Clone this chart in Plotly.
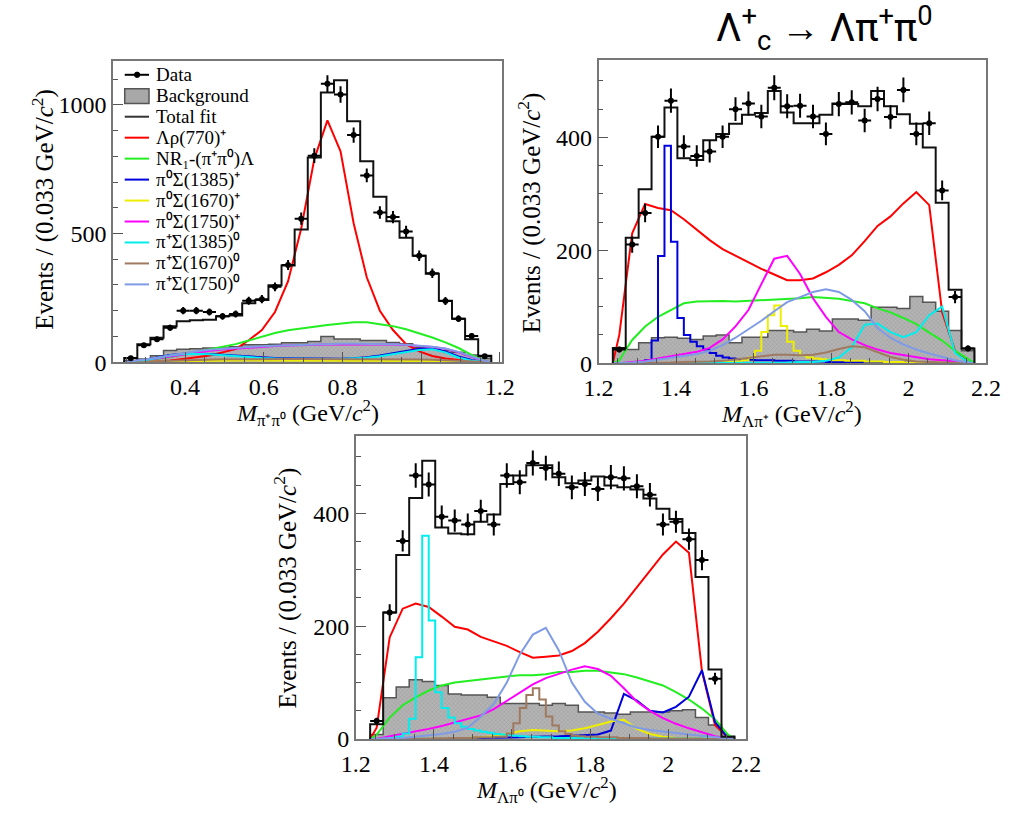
import numpy as np
import plotly.graph_objects as go

BIN = 1 / 30          # 0.033 GeV/c^2 data bins
FINE = BIN / 2        # finer binning used for narrow components

# ---------------- Panel 1 : M(pi+ pi0) ----------------
p1_lo = 0.2453
p1_data = [15, 66, 89, 134, 200, 200, 195, 178, 187, 239, 245, 293, 378, 558,
           803, 1083, 1041, 883, 726, 582, 564, 508, 414, 346, 238, 169, 102, 23]
p1_fit = [16, 70, 95, 140, 159, 163, 165, 178, 181, 229, 242, 299, 376, 516,
          796, 1049, 1096, 937, 781, 643, 548, 484, 414, 344, 239, 169, 89, 25]
p1_bkg = [5, 12, 25, 45, 50, 52, 55, 55, 60, 68, 68, 70, 75, 75,
          80, 100, 90, 90, 84, 84, 76, 72, 57, 52, 45, 38, 28, 14]
p1_rho = [0, 1, 3, 6, 12, 18, 26, 38, 51, 85, 125, 195, 315, 520,
          790, 940, 820, 540, 330, 200, 125, 70, 42, 24, 14, 8, 4, 1]
p1_nr = [0, 5, 12, 20, 30, 40, 48, 58, 70, 84, 100, 113, 124, 132,
         138, 144, 150, 155, 155, 148, 140, 128, 113, 96, 77, 55, 28, 5]
p1_s1385p = [2, 8, 18, 28, 33, 34, 32, 29, 25, 21, 18, 16, 15, 14,
             13, 13, 13, 15, 19, 26, 35, 44, 52, 55, 42, 22, 8, 1]
p1_s1670p = [0, 1, 2, 3, 4, 5, 5, 6, 6, 6, 6, 6, 6, 6,
             6, 6, 6, 6, 6, 6, 6, 6, 6, 5, 4, 3, 1, 0]
p1_s1750p = [2, 7, 14, 22, 30, 38, 44, 49, 53, 57, 60, 63, 65, 67,
             68, 69, 70, 70, 70, 70, 69, 67, 64, 59, 52, 38, 20, 4]
p1_s1385z = [1, 6, 15, 26, 32, 33, 31, 27, 23, 19, 16, 14, 13, 12,
             12, 12, 12, 14, 17, 23, 31, 40, 47, 50, 38, 18, 6, 1]
p1_s1670z = [0, 1, 3, 5, 7, 9, 10, 11, 11, 12, 12, 12, 12, 12,
             12, 12, 12, 12, 12, 12, 12, 11, 10, 9, 7, 4, 2, 0]
p1_s1750z = [3, 9, 17, 26, 35, 42, 48, 52, 56, 59, 62, 64, 66, 68,
             70, 71, 72, 72, 72, 71, 70, 68, 65, 60, 53, 40, 22, 5]

# ---------------- Panel 2 : M(Lambda pi+) ----------------
p2_lo = 1.2367
p2_data = [24, 210, 266, 401, 465, 384, 367, 375, 401, 450, 460, 437, 488, 455,
           456, 437, 406, 459, 462, 430, 468, 436, 484, 406, 425, 306, 117, 26]
p2_fit = [27, 222, 308, 401, 453, 363, 360, 395, 406, 424, 440, 443, 482, 444,
          425, 425, 440, 460, 459, 455, 482, 455, 441, 424, 382, 284, 130, 26]
p2_bkg = [26, 24, 36, 45, 46, 44, 42, 48, 50, 36, 46, 46, 58, 58,
          55, 60, 57, 78, 78, 76, 99, 99, 97, 118, 108, 92, 58, 22]
p2_rho = [50, 230, 282, 275, 271, 255, 237, 218, 202, 190, 178, 167, 157, 147,
          147, 150, 161, 174, 191, 216, 243, 260, 283, 303, 280, 90, 22, 2]
p2_nr = [5, 41, 65, 82, 94, 106, 109, 110, 110, 109, 110, 111, 113, 114,
         115, 117, 116, 114, 110, 106, 97, 90, 80, 69, 54, 40, 22, 7]
p2_s1385p_fine = [0, 0, 0, 1, 2, 5, 40, 190, 385, 215,
                  80, 50, 38, 30, 24, 18, 13, 10, 8, 7,
                  6, 6, 5, 5, 5, 4, 4, 4, 3, 3,
                  3, 3, 3, 2, 2, 2, 2, 2, 2, 1,
                  1, 1, 1, 1, 1, 1, 1, 1, 1, 1,
                  0, 0, 0, 0, 0, 0]
p2_s1670p_fine = [0, 0, 0, 0, 0, 0, 0, 0, 0, 0,
                  0, 0, 0, 0, 0, 1, 1, 2, 2, 3,
                  5, 10, 22, 55, 85, 102, 66, 38, 22, 14,
                  10, 8, 7, 6, 5, 5, 4, 4, 4, 3,
                  3, 3, 2, 2, 2, 1, 1, 1, 1, 1,
                  1, 0, 0, 0, 0, 0]
p2_s1750p = [0, 2, 4, 8, 12, 16, 20, 27, 42, 65, 94, 140, 185, 190,
             158, 115, 82, 55, 42, 32, 24, 18, 14, 10, 7, 5, 3, 0]
p2_s1385z = [0, 0, 0, 0, 0, 0, 0, 0, 0, 1, 1, 1, 1, 1,
             2, 2, 4, 10, 28, 68, 70, 55, 46, 55, 85, 100, 18, 2]
p2_s1670z = [0, 0, 0, 1, 1, 2, 2, 3, 4, 7, 10, 13, 15, 15,
             14, 15, 19, 25, 30, 28, 20, 11, 6, 3, 2, 1, 0, 0]
p2_s1750z = [0, 1, 3, 6, 9, 12, 16, 22, 32, 45, 60, 75, 92, 108,
             117, 126, 131, 126, 112, 92, 62, 45, 33, 24, 17, 11, 5, 1]

# ---------------- Panel 3 : M(Lambda pi0) ----------------
p3_lo = 1.2367
p3_data = [32, 224, 351, 467, 451, 394, 387, 380, 404, 380, 467, 455, 489, 480,
           470, 446, 452, 443, 464, 462, 448, 433, 380, 385, 354, 317, 107, None]
p3_fit = [26, 224, 326, 427, 493, 375, 364, 363, 385, 398, 452, 467, 485, 485,
          464, 453, 458, 465, 449, 446, 442, 426, 408, 390, 365, 287, 123, 4]
p3_bkg = [8, 73, 92, 105, 102, 95, 80, 78, 78, 74, 63, 63, 63, 60,
          63, 60, 48, 48, 46, 44, 48, 48, 48, 50, 52, 38, 25, 5]
p3_rho = [20, 180, 231, 240, 234, 217, 199, 194, 181, 173, 165, 154, 144, 146,
          148, 156, 170, 190, 214, 240, 269, 298, 327, 350, 330, 120, 25, 2]
p3_nr = [8, 38, 60, 74, 86, 95, 100, 103, 106, 109, 111, 113, 113, 115,
         119, 119, 121, 121, 118, 115, 109, 102, 95, 83, 70, 54, 35, 8]
p3_s1385p = [0, 0, 0, 0, 1, 1, 1, 2, 2, 2, 3, 3, 4, 4,
             5, 6, 7, 8, 15, 80, 68, 50, 47, 57, 75, 122, 30, 2]
p3_s1670p = [0, 0, 0, 0, 0, 0, 1, 2, 3, 5, 9, 14, 16, 15,
             14, 15, 19, 25, 31, 34, 18, 9, 4, 2, 1, 0, 0, 0]
p3_s1750p = [0, 5, 9, 13, 18, 23, 29, 35, 42, 53, 68, 83, 97, 108,
             116, 123, 129, 124, 112, 90, 66, 50, 37, 27, 19, 12, 5, 1]
p3_s1385z_fine = [0, 0, 1, 2, 4, 10, 36, 145, 360, 210,
                  83, 55, 38, 28, 22, 18, 15, 13, 11, 9,
                  8, 7, 6, 5, 4, 4, 3, 3, 2, 2,
                  2, 2, 2, 2, 2, 1, 1, 1, 1, 1,
                  1, 1, 1, 1, 1, 1, 1, 1, 1, 1,
                  1, 1, 0, 0, 0, 0]
p3_s1670z_fine = [0, 0, 0, 0, 0, 0, 0, 0, 0, 0,
                  1, 1, 2, 2, 2, 2, 3, 3, 3, 4,
                  4, 10, 28, 55, 78, 90, 70, 40, 24, 14,
                  9, 6, 5, 4, 4, 3, 3, 3, 2, 2,
                  2, 2, 2, 1, 1, 1, 1, 1, 1, 1,
                  1, 0, 0, 0, 0, 0]
p3_s1750z = [0, 1, 2, 4, 6, 9, 13, 20, 40, 62, 100, 150, 185, 197,
             157, 100, 66, 45, 36, 28, 20, 16, 13, 10, 8, 6, 4, 1]

# ---------------- labels / styles ----------------
order = ["rho", "nr", "s1385p", "s1670p", "s1750p", "s1385z", "s1670z", "s1750z"]
names = {
    "rho": "Λρ(770)⁺", "nr": "NR₁-(π⁺π⁰)Λ",
    "s1385p": "π⁰Σ(1385)⁺", "s1670p": "π⁰Σ(1670)⁺", "s1750p": "π⁰Σ(1750)⁺",
    "s1385z": "π⁺Σ(1385)⁰", "s1670z": "π⁺Σ(1670)⁰", "s1750z": "π⁺Σ(1750)⁰",
}
colors = {
    "rho": "#ff0000", "nr": "#22ee22", "s1385p": "#0000dd", "s1670p": "#eeee00",
    "s1750p": "#ff00ff", "s1385z": "#00eeee", "s1670z": "#a07a60", "s1750z": "#7f9be6",
}

panels = [
    dict(xa="x", ya="y", lo=p1_lo, data=p1_data, fit=p1_fit, bkg=p1_bkg,
         comps={"rho": (p1_rho, BIN), "nr": (p1_nr, BIN), "s1385p": (p1_s1385p, BIN),
                "s1670p": (p1_s1670p, BIN), "s1750p": (p1_s1750p, BIN),
                "s1385z": (p1_s1385z, BIN), "s1670z": (p1_s1670z, BIN),
                "s1750z": (p1_s1750z, BIN)}),
    dict(xa="x2", ya="y2", lo=p2_lo, data=p2_data, fit=p2_fit, bkg=p2_bkg,
         comps={"rho": (p2_rho, BIN), "nr": (p2_nr, BIN), "s1385p": (p2_s1385p_fine, FINE),
                "s1670p": (p2_s1670p_fine, FINE), "s1750p": (p2_s1750p, BIN),
                "s1385z": (p2_s1385z, BIN), "s1670z": (p2_s1670z, BIN),
                "s1750z": (p2_s1750z, BIN)}),
    dict(xa="x3", ya="y3", lo=p3_lo, data=p3_data, fit=p3_fit, bkg=p3_bkg,
         comps={"rho": (p3_rho, BIN), "nr": (p3_nr, BIN), "s1385p": (p3_s1385p, BIN),
                "s1670p": (p3_s1670p, BIN), "s1750p": (p3_s1750p, BIN),
                "s1385z": (p3_s1385z_fine, FINE), "s1670z": (p3_s1670z_fine, FINE),
                "s1750z": (p3_s1750z, BIN)}),
]

fig = go.Figure()


def step_xy(lo, vals, w):
    n = len(vals)
    edges = [lo + w * i for i in range(n + 1)]
    xs = [edges[0]] + edges[:n] + [edges[n], edges[n]]
    ys = [0] + list(vals) + [vals[-1], 0]
    return xs, ys


for p in panels:
    lo = p["lo"]
    bx, by = step_xy(lo, p["bkg"], BIN)
    fig.add_trace(go.Scatter(
        x=bx, y=by, xaxis=p["xa"], yaxis=p["ya"], mode="lines", line_shape="hv",
        line=dict(color="#555555", width=1.5), fill="tozeroy", fillcolor="#a8a8a8",
        fillpattern=dict(shape="x", size=3, solidity=0.25, fgcolor="#7a7a7a", bgcolor="#b4b4b4"),
        name="Background", showlegend=False))
    for key in order:
        vals, w = p["comps"][key]
        n = len(vals)
        cx = [lo] + [lo + w * (i + 0.5) for i in range(n)] + [lo + w * n]
        cy = [0] + list(vals) + [0]
        fig.add_trace(go.Scatter(
            x=cx, y=cy, xaxis=p["xa"], yaxis=p["ya"], mode="lines",
            line=dict(color=colors[key], width=2, shape="hvh" if w == FINE else "linear"),
            name=names[key], showlegend=False))
    fx, fy = step_xy(lo, p["fit"], BIN)
    fig.add_trace(go.Scatter(
        x=fx, y=fy, xaxis=p["xa"], yaxis=p["ya"], mode="lines", line_shape="hv",
        line=dict(color="#111111", width=2), name="Total fit", showlegend=False))
    dx = [lo + BIN * (i + 0.5) for i in range(len(p["data"]))]
    err = [None if v is None else float(np.sqrt(v)) for v in p["data"]]
    fig.add_trace(go.Scatter(
        x=dx, y=p["data"], xaxis=p["xa"], yaxis=p["ya"], mode="markers",
        marker=dict(color="black", size=6),
        error_x=dict(type="constant", value=BIN / 2, width=0, thickness=2, color="black"),
        error_y=dict(type="data", array=err, width=0, thickness=2, color="black"),
        showlegend=False, name="Data"))

W, H = 1036, 817
tickfont = dict(family="Liberation Serif", size=24, color="black")


def xdom(a, b):
    return [a / W, b / W]


def ydom(top, bot):
    return [1 - bot / H, 1 - top / H]


def px(x):
    return x / W


def py(y):
    return 1 - y / H


axis_common = dict(showline=True, linecolor="#777777", linewidth=1.5, mirror=True,
                   ticks="inside", ticklen=10, tickwidth=1, tickcolor="#555555",
                   showgrid=False, zeroline=False, tickfont=tickfont)

xt2 = dict(tickvals=[1.2, 1.4, 1.6, 1.8, 2.0, 2.2], ticktext=["1.2", "1.4", "1.6", "1.8", "2", "2.2"],
           ticklabelstandoff=2,
           minor=dict(dtick=0.05, tick0=1.2, ticks="inside", ticklen=5, tickcolor="#555555"))
yt2 = dict(tickvals=[0, 200, 400], ticktext=["0", "200", "400"],
           minor=dict(dtick=50, tick0=0, ticks="inside", ticklen=5, tickcolor="#555555"))

fig.update_layout(
    width=W, height=H, margin=dict(l=0, r=0, t=0, b=0),
    paper_bgcolor="white", plot_bgcolor="white", showlegend=False,
    xaxis=dict(domain=xdom(101, 502), anchor="y", range=[0.217, 1.207],
               tickvals=[0.4, 0.6, 0.8, 1.0, 1.2], ticktext=["0.4", "0.6", "0.8", "1", "1.2"],
               ticklabelstandoff=2,
               minor=dict(dtick=0.05, tick0=0.2, ticks="inside", ticklen=5, tickcolor="#555555"),
               **axis_common),
    yaxis=dict(domain=ydom(62, 368), anchor="x", range=[0, 1171],
               tickvals=[0, 500, 1000], ticktext=["0", "500", "1000"],
               minor=dict(dtick=100, tick0=0, ticks="inside", ticklen=5, tickcolor="#555555"),
               **axis_common),
    xaxis2=dict(domain=xdom(601, 1000), anchor="y2", range=[1.2, 2.2], **xt2, **axis_common),
    yaxis2=dict(domain=ydom(61, 369), anchor="x2", range=[0, 537], **yt2, **axis_common),
    xaxis3=dict(domain=xdom(351, 753), anchor="y3", range=[1.2, 2.2], **xt2, **axis_common),
    yaxis3=dict(domain=ydom(443, 751), anchor="x3", range=[0, 537], **yt2, **axis_common),
)

# ---------------- legend (drawn inside panel 1) ----------------
leg_labels = ["Data", "Background", "Total fit"] + [names[k] for k in order]
leg_colors = ["black", "#555555", "#333333"] + [colors[k] for k in order]
leg_y0, leg_dy = 76, 21.3
shapes = []
for i, (lab, col) in enumerate(zip(leg_labels, leg_colors)):
    yc = leg_y0 + i * leg_dy
    if lab == "Background":
        shapes.append(dict(type="rect", xref="paper", yref="paper",
                           x0=px(113), x1=px(138), y0=py(yc + 8), y1=py(yc - 7),
                           fillcolor="#a8a8a8", line=dict(color="#555555", width=1.5)))
    else:
        shapes.append(dict(type="line", xref="paper", yref="paper",
                           x0=px(113), x1=px(138), y0=py(yc), y1=py(yc),
                           line=dict(color=col, width=2)))
    if lab == "Data":
        shapes.append(dict(type="circle", xref="paper", yref="paper",
                           x0=px(123), x1=px(128.5), y0=py(yc + 2.75), y1=py(yc - 2.75),
                           fillcolor="black", line=dict(color="black", width=1)))
    fig.add_annotation(xref="paper", yref="paper", x=px(143), y=py(yc), text=lab,
                       showarrow=False, xanchor="left", yanchor="middle",
                       font=dict(family="Liberation Serif", size=19, color="black"))
fig.update_layout(shapes=shapes)

title_font = dict(family="Liberation Serif", size=25, color="black")
xtitle_font = dict(family="Liberation Serif", size=24, color="black")
ytitle = "Events / (0.033 GeV/<i>c</i><sup>2</sup>)"
yannots = [
    dict(x=px(29), y=py(213), text=ytitle, textangle=-90),
    dict(x=px(530), y=py(216), text=ytitle, textangle=-90),
    dict(x=px(279), y=py(597), text=ytitle, textangle=-90),
]
xannots = [
    dict(x=px(301), y=py(420), text="<i>M</i><sub>π⁺π⁰</sub> (GeV/<i>c</i><sup>2</sup>)"),
    dict(x=px(800), y=py(421), text="<i>M</i><sub>Λπ⁺</sub> (GeV/<i>c</i><sup>2</sup>)"),
    dict(x=px(547), y=py(803), text="<i>M</i><sub>Λπ⁰</sub> (GeV/<i>c</i><sup>2</sup>)"),
]
for a in yannots:
    fig.add_annotation(xref="paper", yref="paper", showarrow=False, font=title_font,
                       xanchor="center", yanchor="middle", **a)
for a in xannots:
    fig.add_annotation(xref="paper", yref="paper", showarrow=False, font=xtitle_font,
                       xanchor="center", yanchor="middle", **a)

fig.add_annotation(xref="paper", yref="paper", x=px(834), y=py(29), showarrow=False,
                   xanchor="center", yanchor="middle",
                   text="Λ<sup>+</sup><sub>c</sub> → Λπ<sup>+</sup>π<sup>0</sup>",
                   font=dict(family="Roboto", size=39, color="black"))

fig.write_html("out.html")
